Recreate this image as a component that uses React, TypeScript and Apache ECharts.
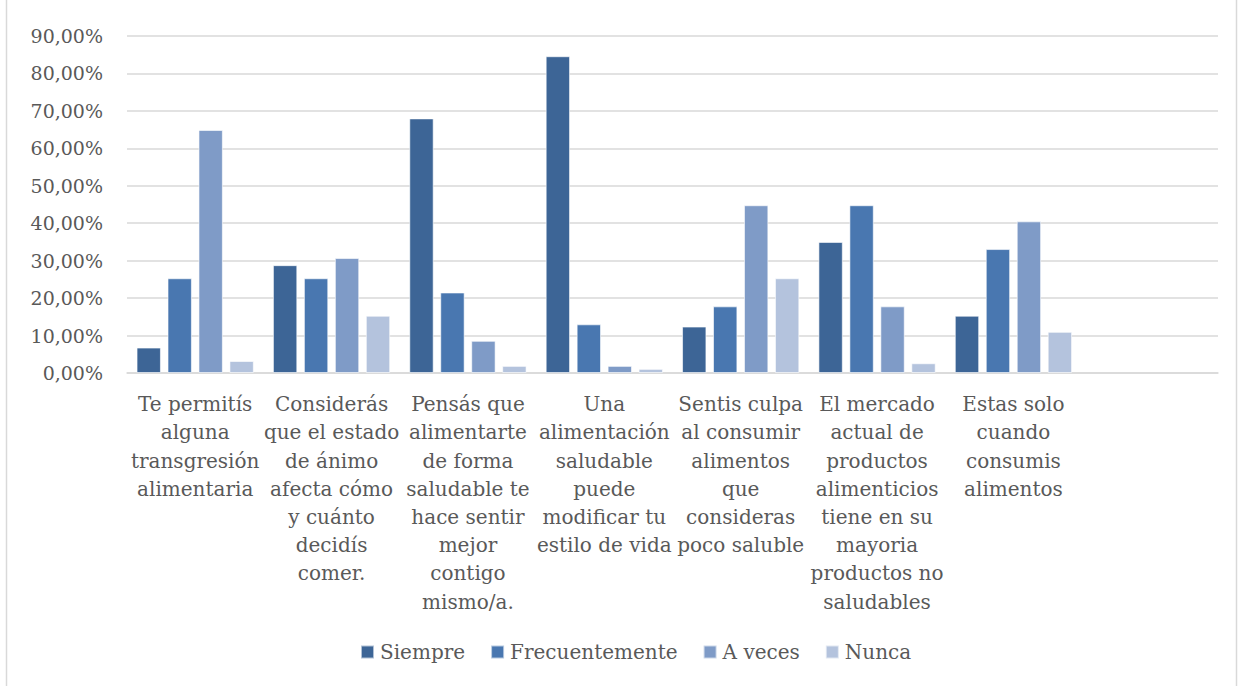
import React, { useEffect, useRef } from "react";
import * as echarts from "echarts";

const categories = [
  "Te permitís\nalguna\ntransgresión\nalimentaria",
  "Considerás\nque el estado\nde ánimo\nafecta cómo\ny cuánto\ndecidís\ncomer.",
  "Pensás que\nalimentarte\nde forma\nsaludable te\nhace sentir\nmejor\ncontigo\nmismo/a.",
  "Una\nalimentación\nsaludable\npuede\nmodificar tu\nestilo de vida",
  "Sentis culpa\nal consumir\nalimentos\nque\nconsideras\npoco saluble",
  "El mercado\nactual de\nproductos\nalimenticios\ntiene en su\nmayoria\nproductos no\nsaludables",
  "Estas solo\ncuando\nconsumis\nalimentos",
  "",
];

const siempre = [6.8, 28.8, 68.0, 84.6, 12.4, 35.0, 15.3, null];
const frecuentemente = [25.3, 25.3, 21.5, 13.0, 17.8, 44.8, 33.1, null];
const aVeces = [64.9, 30.7, 8.6, 1.9, 44.8, 17.8, 40.5, null];
const nunca = [3.2, 15.3, 1.9, 1.1, 25.3, 2.6, 11.0, null];

const seriesNames = ["Siempre", "Frecuentemente", "A veces", "Nunca"];
const seriesColors = ["#3D6596", "#4977B0", "#7F9BC7", "#B4C3DD"];

const FONT = "DejaVu Serif";
const TEXT = "#595959";

export default function App() {
  const ref = useRef<HTMLDivElement>(null);
  useEffect(() => {
    const chart = echarts.init(ref.current!, null, { renderer: "svg" });
    const data = [siempre, frecuentemente, aVeces, nunca];
    chart.setOption({
      animation: false,
      textStyle: { fontFamily: FONT },
      graphic: [
        {
          type: "rect",
          shape: { x: 6.5, y: -2, width: 1230, height: 700 },
          style: { fill: "none", stroke: "#d9d9d9", lineWidth: 1.5 },
          silent: true,
        },
      ],
      legend: {
        top: 637,
        left: 355,
        itemWidth: 13,
        itemHeight: 13,
        itemGap: 25,
        icon: "rect",
        textStyle: { fontFamily: FONT, fontSize: 20, color: TEXT, padding: [0, 0, 0, 1] },
        data: seriesNames,
      },
      grid: { left: 127, right: 30, top: 36, bottom: 313 },
      xAxis: {
        type: "category",
        data: categories,
        axisTick: { show: false },
        axisLine: { lineStyle: { color: "#d9d9d9", width: 1.5 } },
        axisLabel: {
          interval: 0,
          fontFamily: FONT,
          fontSize: 20,
          color: TEXT,
          lineHeight: 28.2,
          margin: 17,
          verticalAlign: "top",
        },
      },
      yAxis: {
        type: "value",
        min: 0,
        max: 90,
        interval: 10,
        axisLine: { show: false },
        axisTick: { show: false },
        splitLine: { lineStyle: { color: "#d9d9d9", width: 1.5 } },
        axisLabel: {
          fontFamily: FONT,
          fontSize: 19,
          color: TEXT,
          margin: 24,
          formatter: (v: number) => v.toFixed(2).replace(".", ",") + "%",
        },
      },
      series: seriesNames.map((name, i) => ({
        name,
        type: "bar",
        data: data[i],
        barGap: "27%",
        barCategoryGap: "14%",
        itemStyle: {
          color: seriesColors[i],
          borderColor: "rgba(255,255,255,0.6)",
          borderWidth: 1,
        },
      })),
    });
    return () => chart.dispose();
  }, []);
  return (
    <div
      ref={ref}
      style={{ position: "absolute", left: 0, top: 0, width: 1248, height: 686 }}
    />
  );
}
